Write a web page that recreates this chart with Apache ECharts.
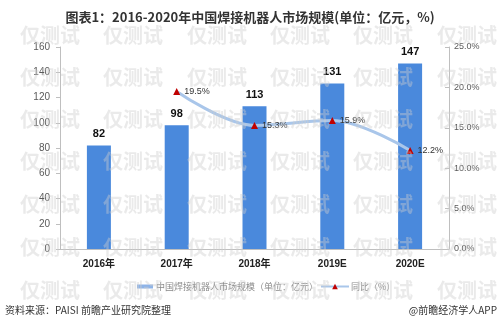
<!DOCTYPE html>
<html>
<head>
<meta charset="utf-8">
<script src="https://cdn.jsdelivr.net/npm/echarts@6/dist/echarts.min.js"></script>
<style>
  html, body { margin: 0; padding: 0; background: #fff; }
  #chart { width: 500px; height: 328px; }
</style>
</head>
<body>
<div id="chart"></div>
<script>
// Market size of welding robots in China, 2016-2020
const years = ['2016年', '2017年', '2018年', '2019E', '2020E'];
const marketSize = [82, 98, 113, 131, 147];          // 亿元
const growthRate = [null, 19.5, 15.3, 15.9, 12.2];   // %
const sizeTicks = { min: 0, max: 160, interval: 20 };
const rateTicks = { min: 0, max: 25, interval: 5 };

const CJK = '"Noto Sans CJK SC", "Liberation Sans", sans-serif';
const NUM = '"Liberation Sans", "Noto Sans CJK SC", sans-serif';

// faint repeated stamp across the canvas
const stampRows = [35, 77, 119, 161, 204, 247, 290];
const stampCols = [50, 133, 217, 300, 383, 467];
const stamps = [];
stampRows.forEach(function (y) {
  stampCols.forEach(function (x) {
    stamps.push({
      type: 'text', x: x, y: y, z: 100, silent: true,
      style: {
        text: '仅测试', fill: 'rgba(205,205,205,0.42)',
        font: 'bold 20px ' + CJK, align: 'center', verticalAlign: 'middle'
      }
    });
  });
});

const chart = echarts.init(document.getElementById('chart'), null, { renderer: 'canvas' });
chart.setOption({
  backgroundColor: '#fff',
  animation: false,
  title: {
    text: '图表1：2016-2020年中国焊接机器人市场规模(单位：亿元，%)',
    left: 'center', top: 6,
    textStyle: { fontFamily: CJK, fontSize: 13, fontWeight: 'bold', color: '#333' }
  },
  grid: { left: 60, right: 51, top: 47, bottom: 79 },
  legend: [
    {
      left: 132, top: 277, itemWidth: 16, itemHeight: 4, itemGap: 13,
      data: [{ name: '中国焊接机器人市场规模（单位：亿元）', icon: 'rect', itemStyle: { color: '#8db3e8' } }],
      textStyle: { fontFamily: CJK, fontSize: 9, color: '#8a8a8a', padding: [0, 0, 0, -2] }
    },
    {
      left: 315, top: 277, itemWidth: 28, itemHeight: 7,
      data: ['同比（%）'],
      textStyle: { fontFamily: CJK, fontSize: 9, color: '#8a8a8a', padding: [0, 0, 0, -3] }
    }
  ],
  xAxis: {
    type: 'category',
    data: years,
    axisLine: { lineStyle: { color: '#bfbfbf' } },
    axisTick: { show: false },
    axisLabel: { fontFamily: NUM, fontSize: 10, fontWeight: 'bold', color: '#222', margin: 10 }
  },
  yAxis: [
    {
      type: 'value', min: sizeTicks.min, max: sizeTicks.max, interval: sizeTicks.interval,
      axisLine: { show: true, lineStyle: { color: '#bfbfbf' } },
      axisTick: { show: true, length: 4, lineStyle: { color: '#bfbfbf' } },
      splitLine: { show: false },
      axisLabel: { fontFamily: NUM, fontSize: 10, color: '#595959', margin: 10 }
    },
    {
      type: 'value', min: rateTicks.min, max: rateTicks.max, interval: rateTicks.interval,
      position: 'right',
      axisLine: { show: true, lineStyle: { color: '#bfbfbf' } },
      axisTick: { show: true, inside: true, length: 4, lineStyle: { color: '#bfbfbf' } },
      splitLine: { show: false },
      axisLabel: {
        fontFamily: NUM, fontSize: 9, color: '#595959', margin: 5,
        formatter: function (v) { return v.toFixed(1) + '%'; }
      }
    }
  ],
  series: [
    {
      name: '中国焊接机器人市场规模（单位：亿元）',
      type: 'bar',
      data: marketSize,
      barWidth: 24,
      itemStyle: { color: '#4a89dc' },
      label: {
        show: true, position: 'top', distance: 6,
        fontFamily: NUM, fontSize: 11, fontWeight: 'bold', color: '#111'
      }
    },
    {
      name: '同比（%）',
      type: 'line',
      yAxisIndex: 1,
      data: growthRate,
      smooth: 0.35,
      symbol: 'triangle',
      symbolSize: 7,
      lineStyle: { color: '#a9c6ea', width: 3 },
      itemStyle: { color: '#c00000' },
      label: {
        show: true, position: 'right', distance: 4,
        fontFamily: NUM, fontSize: 9, color: '#333',
        formatter: function (p) { return p.value.toFixed(1) + '%'; }
      }
    }
  ],
  graphic: [
    {
      type: 'text', left: 5, top: 305, z: 10,
      style: { text: '资料来源：PAISI 前瞻产业研究院整理', fill: '#333', font: '10px ' + CJK }
    },
    {
      type: 'text', right: 3, top: 305, z: 10,
      style: { text: '@前瞻经济学人APP', fill: '#333', font: '10px ' + CJK }
    }
  ].concat(stamps)
});
</script>
</body>
</html>
